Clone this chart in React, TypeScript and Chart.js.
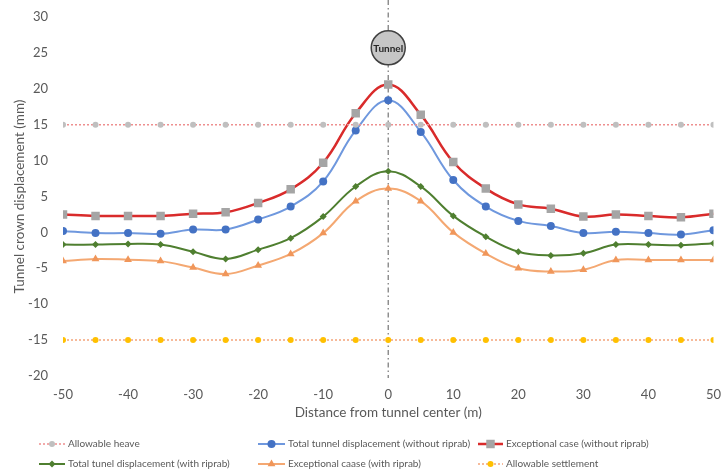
import React, { useEffect, useRef } from "react";
import { Chart, registerables } from "chart.js";

Chart.register(...registerables);

const distances = [-50, -45, -40, -35, -30, -25, -20, -15, -10, -5, 0, 5, 10, 15, 20, 25, 30, 35, 40, 45, 50];
const allowableHeave = [15, 15, 15, 15, 15, 15, 15, 15, 15, 15, 15, 15, 15, 15, 15, 15, 15, 15, 15, 15, 15];
const totalWithout = [0.2, -0.1, -0.1, -0.2, 0.4, 0.4, 1.8, 3.6, 7.1, 14.2, 18.4, 14.0, 7.3, 3.6, 1.6, 0.9, -0.1, 0.1, -0.1, -0.3, 0.3];
const exceptionalWithout = [2.5, 2.3, 2.3, 2.3, 2.6, 2.8, 4.1, 6.0, 9.7, 16.6, 20.6, 16.4, 9.8, 6.1, 3.9, 3.3, 2.2, 2.5, 2.3, 2.1, 2.6];
const totalWith = [-1.7, -1.7, -1.6, -1.7, -2.7, -3.7, -2.4, -0.8, 2.2, 6.4, 8.5, 6.4, 2.3, -0.6, -2.7, -3.2, -2.9, -1.7, -1.7, -1.8, -1.5];
const exceptionalWith = [-4.0, -3.7, -3.8, -4.0, -4.9, -5.8, -4.6, -3.0, -0.1, 4.35, 6.1, 4.35, 0.0, -2.95, -5.0, -5.45, -5.2, -3.85, -3.85, -3.85, -3.85];
const allowableSettlement = [-15, -15, -15, -15, -15, -15, -15, -15, -15, -15, -15, -15, -15, -15, -15, -15, -15, -15, -15, -15, -15];

const seriesLabels = [
  "Allowable heave",
  "Total tunnel displacement (without riprab)",
  "Exceptional case (without riprab)",
  "Total tunel displacement (with riprab)",
  "Exceptional caase (with riprab)",
  "Allowable settlement",
];
const tunnelPosition = { x: 0, y: 25.7, label: "Tunnel" };

const FONT = "Lato, 'Open Sans', sans-serif";
const TEXT = "#595959";

const toXY = (ys: number[]) => ys.map((y, i) => ({ x: distances[i], y }));

const legendPos = [
  { x: 39, y: 444, w: 26 },
  { x: 258, y: 444, w: 27 },
  { x: 478, y: 444, w: 25 },
  { x: 39, y: 464, w: 26 },
  { x: 258, y: 464, w: 27 },
  { x: 478, y: 464, w: 25 },
];

function drawMarker(ctx: CanvasRenderingContext2D, style: string, r: number, x: number, y: number) {
  ctx.beginPath();
  if (style === "rect") {
    const s = Math.SQRT1_2 * r;
    ctx.rect(x - s, y - s, 2 * s, 2 * s);
  } else if (style === "rectRot") {
    ctx.moveTo(x, y - r);
    ctx.lineTo(x + r, y);
    ctx.lineTo(x, y + r);
    ctx.lineTo(x - r, y);
    ctx.closePath();
  } else if (style === "triangle") {
    ctx.moveTo(x, y - r);
    ctx.lineTo(x + r * 0.87, y + r * 0.5);
    ctx.lineTo(x - r * 0.87, y + r * 0.5);
    ctx.closePath();
  } else {
    ctx.arc(x, y, r, 0, Math.PI * 2);
  }
  ctx.fill();
}

const tunnelPlugin = {
  id: "tunnel",
  beforeDatasetsDraw(chart: any) {
    const { ctx, scales, chartArea } = chart;
    const x = scales.x.getPixelForValue(tunnelPosition.x);
    ctx.save();
    ctx.strokeStyle = "#7f7f7f";
    ctx.lineWidth = 1.3;
    ctx.setLineDash([5, 3, 1.5, 3]);
    ctx.beginPath();
    ctx.moveTo(x, 0);
    ctx.lineTo(x, chartArea.bottom + 2);
    ctx.stroke();
    ctx.restore();
  },
  afterDatasetsDraw(chart: any) {
    const { ctx, scales } = chart;
    const x = scales.x.getPixelForValue(tunnelPosition.x);
    const y = scales.y.getPixelForValue(tunnelPosition.y);
    ctx.save();
    ctx.beginPath();
    ctx.arc(x, y, 17, 0, Math.PI * 2);
    ctx.fillStyle = "#c6c6c6";
    ctx.fill();
    ctx.lineWidth = 1.5;
    ctx.strokeStyle = "#404040";
    ctx.stroke();
    ctx.fillStyle = "#262626";
    ctx.font = `bold 10px ${FONT}`;
    ctx.textAlign = "center";
    ctx.textBaseline = "middle";
    ctx.fillText(tunnelPosition.label, x, y + 0.5);
    ctx.restore();
  },
};

const legendPlugin = {
  id: "customLegend",
  afterDraw(chart: any) {
    const { ctx } = chart;
    chart.data.datasets.forEach((ds: any, i: number) => {
      const p = legendPos[i];
      if (!p) return;
      ctx.save();
      ctx.strokeStyle = ds.borderColor;
      ctx.lineWidth = ds.borderWidth;
      ctx.setLineDash(ds.borderDash || []);
      ctx.beginPath();
      ctx.moveTo(p.x, p.y);
      ctx.lineTo(p.x + p.w, p.y);
      ctx.stroke();
      ctx.setLineDash([]);
      ctx.fillStyle = ds.pointBackgroundColor;
      drawMarker(ctx, ds.pointStyle, ds.pointRadius, p.x + p.w / 2, p.y);
      ctx.fillStyle = TEXT;
      ctx.font = `10px ${FONT}`;
      ctx.textAlign = "left";
      ctx.textBaseline = "middle";
      ctx.fillText(ds.label, p.x + p.w + 3, p.y);
      ctx.restore();
    });
  },
};

export default function App() {
  const ref = useRef<HTMLCanvasElement | null>(null);

  useEffect(() => {
    document.body.style.margin = "0";
    if (!ref.current) return;
    const mk = (
      label: string,
      ys: number[],
      line: string,
      marker: string,
      style: string,
      radius: number,
      width: number,
      dash: number[] = [],
      tension = 0.4
    ) => ({
      label,
      data: toXY(ys),
      borderColor: line,
      borderWidth: width,
      borderDash: dash,
      pointStyle: style,
      pointRadius: radius,
      pointHoverRadius: radius,
      pointBackgroundColor: marker,
      pointBorderColor: marker,
      pointBorderWidth: 0,
      tension,
      fill: false,
    });
    const chart = new Chart(ref.current, {
      type: "line",
      data: {
        datasets: [
          mk(seriesLabels[0], allowableHeave, "#ee8f8f", "#bfbfbf", "circle", 3, 1.5, [2, 2], 0),
          mk(seriesLabels[1], totalWithout, "#6f98de", "#4472c4", "circle", 4, 2),
          mk(seriesLabels[2], exceptionalWithout, "#d92b2b", "#a5a5a5", "rect", 6, 2.5),
          mk(seriesLabels[3], totalWith, "#4f7f30", "#4f7f30", "rectRot", 3.5, 2),
          mk(seriesLabels[4], exceptionalWith, "#f4a872", "#f0965a", "triangle", 4.5, 2),
          mk(seriesLabels[5], allowableSettlement, "#f3a47a", "#ffc000", "circle", 3, 1.5, [2, 2], 0),
        ] as any,
      },
      options: {
        animation: false,
        responsive: false,
        maintainAspectRatio: false,
        layout: { padding: { top: 17, right: 0, left: 0, bottom: 52 } },
        plugins: {
          legend: { display: false },
          tooltip: { enabled: false },
        },
        scales: {
          x: {
            type: "linear",
            min: -50,
            max: 50,
            grid: { display: false, drawTicks: true, tickLength: 11 },
            border: { display: false },
            ticks: {
              stepSize: 10,
              padding: 0,
              color: TEXT,
              font: { family: FONT, size: 13 },
            },
            title: {
              display: true,
              text: "Distance from tunnel center (m)",
              color: TEXT,
              font: { family: FONT, size: 13.5 },
              padding: { top: 0, bottom: 0 },
            },
            afterFit: (s: any) => {
              s.height = 45;
            },
          },
          y: {
            min: -20,
            max: 30,
            grid: { display: false, drawTicks: true, tickLength: 15 },
            border: { display: false },
            ticks: {
              stepSize: 5,
              padding: 0,
              color: TEXT,
              font: { family: FONT, size: 13 },
            },
            title: {
              display: true,
              text: "Tunnel crown displacement (mm)",
              color: TEXT,
              font: { family: FONT, size: 13.5 },
              padding: { top: 12, bottom: 0 },
            },
            afterFit: (s: any) => {
              s.width = 63;
            },
          },
        },
      } as any,
      plugins: [tunnelPlugin, legendPlugin],
    });
    return () => chart.destroy();
  }, []);

  return (
    <div style={{ position: "absolute", left: 0, top: 0, width: 721, height: 473, background: "#fff" }}>
      <canvas ref={ref} width={721} height={473} style={{ width: 721, height: 473, display: "block" }} />
    </div>
  );
}
